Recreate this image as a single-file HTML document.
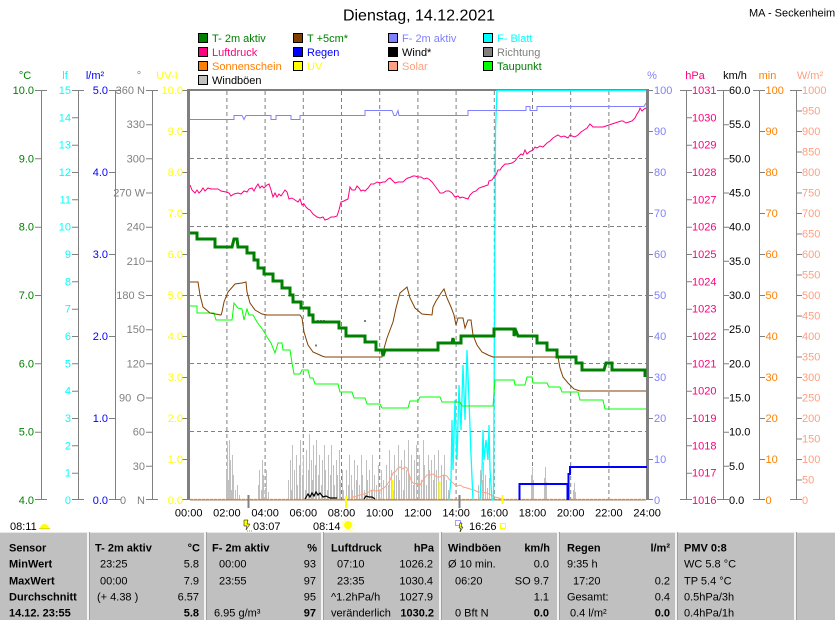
<!DOCTYPE html>
<html><head><meta charset="utf-8"><style>
html,body{margin:0;padding:0;background:#fff;}
svg{display:block;}
text{font-family:"Liberation Sans",Arial,sans-serif;font-size:11px;}
.b{font-weight:bold;}
</style></head><body>
<svg width="835" height="620" viewBox="0 0 835 620" xmlns="http://www.w3.org/2000/svg">
<rect width="835" height="620" fill="#fff"/>
<!-- Title -->
<text x="419" y="20.5" text-anchor="middle" style="font-size:16px">Dienstag, 14.12.2021</text>
<text x="749" y="16.5">MA - Seckenheim</text>

<!-- Legend -->
<g stroke="#000" stroke-width="1">
<rect x="198.5" y="33.5" width="9" height="9" fill="#008000"/>
<rect x="198.5" y="47.5" width="9" height="9" fill="#ff0080"/>
<rect x="198.5" y="61.5" width="9" height="9" fill="#ff8000"/>
<rect x="198.5" y="75.5" width="9" height="9" fill="#c0c0c0"/>
<rect x="293.5" y="33.5" width="9" height="9" fill="#804000"/>
<rect x="293.5" y="47.5" width="9" height="9" fill="#0000ff"/>
<rect x="293.5" y="61.5" width="9" height="9" fill="#ffff00"/>
<rect x="388.5" y="33.5" width="9" height="9" fill="#8080ff"/>
<rect x="388.5" y="47.5" width="9" height="9" fill="#000000"/>
<rect x="388.5" y="61.5" width="9" height="9" fill="#ffa080"/>
<rect x="483.5" y="33.5" width="9" height="9" fill="#00ffff"/>
<rect x="483.5" y="47.5" width="9" height="9" fill="#808080"/>
<rect x="483.5" y="61.5" width="9" height="9" fill="#00ff00"/>
</g>
<text x="212" y="42" fill="#008000">T- 2m aktiv</text>
<text x="212" y="56" fill="#ff0080">Luftdruck</text>
<text x="212" y="70" fill="#ff8000">Sonnenschein</text>
<text x="212" y="84" fill="#000">Windböen</text>
<text x="307" y="42" fill="#008000">T +5cm*</text>
<text x="307" y="56" fill="#0000ff">Regen</text>
<text x="307" y="70" fill="#ffff00">UV</text>
<text x="402" y="42" fill="#8080ff">F- 2m aktiv</text>
<text x="402" y="56" fill="#000">Wind*</text>
<text x="402" y="70" fill="#ffa080">Solar</text>
<text x="497" y="42" fill="#00ffff">F- Blatt</text>
<text x="497" y="56" fill="#808080">Richtung</text>
<text x="497" y="70" fill="#008000">Taupunkt</text>

<!-- Unit headers -->
<g text-anchor="middle">
<text x="25" y="79" fill="#008000">°C</text>
<text x="65" y="79" fill="#00ffff">lf</text>
<text x="95" y="79" fill="#0000ff">l/m²</text>
<text x="139" y="79" fill="#808080">°</text>
<text x="167" y="79" fill="#ffff00">UV-I</text>
<text x="652" y="79" fill="#8080ff">%</text>
<text x="695" y="79" fill="#ff0080">hPa</text>
<text x="735" y="79" fill="#000">km/h</text>
<text x="767.5" y="79" fill="#ff8000">min</text>
<text x="810" y="79" fill="#ffa080">W/m²</text>
</g>

<!-- Axis lines and ticks -->
<g stroke="#808080" stroke-width="1" fill="none">
<path d="M41.5,90V500M78.5,90V500M115.5,90V500M152.5,90V500M686.5,90V500M723.5,90V500M759.5,90V500M796.5,90V500"/>
<!-- C -->
<path d="M35,90.5H47M35,158.8H41M35,227.2H41M35,295.5H41M35,363.8H41M35,432.2H41M35,499.5H47"/>
<!-- lf -->
<path d="M72,90.5H84M72,117.8H78M72,145.2H78M72,172.5H78M72,199.8H78M72,227.2H78M72,254.5H78M72,281.8H78M72,309.2H78M72,336.5H78M72,363.8H78M72,391.2H78M72,418.5H78M72,445.8H78M72,473.2H78M72,499.5H84"/>
<!-- l/m2 -->
<path d="M109,90.5H121M109,172.5H115M109,254.5H115M109,336.5H115M109,418.5H115M109,499.5H121"/>
<!-- dir -->
<path d="M146,90.5H158M146,124.7H152M146,158.8H152M146,193H152M146,227.2H152M146,261.3H152M146,295.5H152M146,329.7H152M146,363.8H152M146,398H152M146,432.2H152M146,466.3H152M146,499.5H158"/>
<!-- UV -->
<path d="M182,131.5H188M182,172.5H188M182,213.5H188M182,254.5H188M182,295.5H188M182,336.5H188M182,377.5H188M182,418.5H188M182,459.5H188M182,499.5H188M182,90.5H188"/>
<!-- % -->
<path d="M647,90.5H653M647,131.5H653M647,172.5H653M647,213.5H653M647,254.5H653M647,295.5H653M647,336.5H653M647,377.5H653M647,418.5H653M647,459.5H653M647,499.5H653"/>
<!-- hPa -->
<path d="M680,90.5H692M686,117.8H692M686,145.2H692M686,172.5H692M686,199.8H692M686,227.2H692M686,254.5H692M686,281.8H692M686,309.2H692M686,336.5H692M686,363.8H692M686,391.2H692M686,418.5H692M686,445.8H692M686,473.2H692M680,499.5H692"/>
<!-- km/h -->
<path d="M717,90.5H729M723,124.7H729M723,158.8H729M723,193H729M723,227.2H729M723,261.3H729M723,295.5H729M723,329.7H729M723,363.8H729M723,398H729M723,432.2H729M723,466.3H729M717,499.5H729"/>
<!-- min -->
<path d="M753,90.5H765M759,131.5H765M759,172.5H765M759,213.5H765M759,254.5H765M759,295.5H765M759,336.5H765M759,377.5H765M759,418.5H765M759,459.5H765M753,499.5H765"/>
<!-- W/m2 -->
<path d="M790,90.5H802M796,111H802M796,131.5H802M796,152H802M796,172.5H802M796,193H802M796,213.5H802M796,234H802M796,254.5H802M796,275H802M796,295.5H802M796,316H802M796,336.5H802M796,357H802M796,377.5H802M796,398H802M796,418.5H802M796,439H802M796,459.5H802M796,480H802M790,499.5H802"/>
</g>

<!-- Axis labels left -->
<g text-anchor="end" fill="#008000">
<text x="34" y="94">10.0</text><text x="34" y="162.3">9.0</text><text x="34" y="230.7">8.0</text><text x="34" y="299">7.0</text><text x="34" y="367.3">6.0</text><text x="34" y="435.7">5.0</text><text x="34" y="504">4.0</text>
</g>
<g text-anchor="end" fill="#00ffff">
<text x="71" y="94">15</text><text x="71" y="121.3">14</text><text x="71" y="148.7">13</text><text x="71" y="176">12</text><text x="71" y="203.3">11</text><text x="71" y="230.7">10</text><text x="71" y="258">9</text><text x="71" y="285.3">8</text><text x="71" y="312.7">7</text><text x="71" y="340">6</text><text x="71" y="367.3">5</text><text x="71" y="394.7">4</text><text x="71" y="422">3</text><text x="71" y="449.3">2</text><text x="71" y="476.7">1</text><text x="71" y="504">0</text>
</g>
<g text-anchor="end" fill="#0000ff">
<text x="108" y="94">5.0</text><text x="108" y="176">4.0</text><text x="108" y="258">3.0</text><text x="108" y="340">2.0</text><text x="108" y="422">1.0</text><text x="108" y="504">0.0</text>
</g>
<g text-anchor="end" fill="#808080">
<text x="145" y="94">360 N</text><text x="145" y="128.2">330</text><text x="145" y="162.3">300</text><text x="145" y="196.5">270 W</text><text x="145" y="230.7">240</text><text x="145" y="264.8">210</text><text x="145" y="299">180 S</text><text x="145" y="333.2">150</text><text x="145" y="367.3">120</text><text x="145" y="401.5">O</text><text x="145" y="435.7">60</text><text x="145" y="469.8">30</text><text x="145" y="504">N</text>
</g>
<g fill="#808080"><text x="119" y="401.5">90</text><text x="120" y="504">0</text></g>
<g text-anchor="end" fill="#ffff00">
<text x="183" y="94">10.0</text><text x="183" y="135">9.0</text><text x="183" y="176">8.0</text><text x="183" y="217">7.0</text><text x="183" y="258">6.0</text><text x="183" y="299">5.0</text><text x="183" y="340">4.0</text><text x="183" y="381">3.0</text><text x="183" y="422">2.0</text><text x="183" y="463">1.0</text><text x="183" y="504">0.0</text>
</g>
<!-- Axis labels right -->
<g fill="#8080ff">
<text x="654" y="94">100</text><text x="654" y="135">90</text><text x="654" y="176">80</text><text x="654" y="217">70</text><text x="654" y="258">60</text><text x="654" y="299">50</text><text x="654" y="340">40</text><text x="654" y="381">30</text><text x="654" y="422">20</text><text x="654" y="463">10</text><text x="654" y="504">0</text>
</g>
<g fill="#ff0080">
<text x="692" y="94">1031</text><text x="692" y="121.3">1030</text><text x="692" y="148.7">1029</text><text x="692" y="176">1028</text><text x="692" y="203.3">1027</text><text x="692" y="230.7">1026</text><text x="692" y="258">1025</text><text x="692" y="285.3">1024</text><text x="692" y="312.7">1023</text><text x="692" y="340">1022</text><text x="692" y="367.3">1021</text><text x="692" y="394.7">1020</text><text x="692" y="422">1019</text><text x="692" y="449.3">1018</text><text x="692" y="476.7">1017</text><text x="692" y="504">1016</text>
</g>
<g fill="#000">
<text x="729" y="94">60.0</text><text x="729" y="128.2">55.0</text><text x="729" y="162.3">50.0</text><text x="729" y="196.5">45.0</text><text x="729" y="230.7">40.0</text><text x="729" y="264.8">35.0</text><text x="729" y="299">30.0</text><text x="729" y="333.2">25.0</text><text x="729" y="367.3">20.0</text><text x="729" y="401.5">15.0</text><text x="729" y="435.7">10.0</text><text x="729" y="469.8">5.0</text><text x="729" y="504">0.0</text>
</g>
<g fill="#ff8000">
<text x="765.5" y="94">100</text><text x="765.5" y="135">90</text><text x="765.5" y="176">80</text><text x="765.5" y="217">70</text><text x="765.5" y="258">60</text><text x="765.5" y="299">50</text><text x="765.5" y="340">40</text><text x="765.5" y="381">30</text><text x="765.5" y="422">20</text><text x="765.5" y="463">10</text><text x="765.5" y="504">0</text>
</g>
<g fill="#ffa080">
<text x="802" y="94">1000</text><text x="802" y="114.5">950</text><text x="802" y="135">900</text><text x="802" y="155.5">850</text><text x="802" y="176">800</text><text x="802" y="196.5">750</text><text x="802" y="217">700</text><text x="802" y="237.5">650</text><text x="802" y="258">600</text><text x="802" y="278.5">550</text><text x="802" y="299">500</text><text x="802" y="319.5">450</text><text x="802" y="340">400</text><text x="802" y="360.5">350</text><text x="802" y="381">300</text><text x="802" y="401.5">250</text><text x="802" y="422">200</text><text x="802" y="442.5">150</text><text x="802" y="463">100</text><text x="802" y="483.5">50</text><text x="802" y="504">0</text>
</g>

<!-- Grid -->
<g stroke="#808080" stroke-width="1" stroke-dasharray="4,3" fill="none">
<path d="M226.9,91V500M265.1,91V500M303.3,91V500M341.5,91V500M379.7,91V500M417.9,91V500M456.1,91V500M494.3,91V500M532.5,91V500M570.7,91V500M608.9,91V500"/>
<path d="M190,158.5H646M190,226.5H646M190,295.5H646M190,363.5H646M190,431.5H646"/>
</g>

<!-- Windböen -->
<path stroke="#c0c0c0" stroke-width="1" fill="none" d="M226.5,500V470M227.5,500V445M228.5,500V480M229.5,500V440M230.5,500V460M231.5,500V490M232.5,500V455M233.5,500V475M235.5,500V490M237.5,500V485M239.5,500V495M258.5,500V485M259.5,500V470M261.5,500V490M262.5,500V460M263.5,500V475M265.5,500V488M266.5,500V470M268.5,500V492M288.5,500V480M290.5,500V460M291.5,500V490M292.5,500V445M294.5,500V470M296.5,500V455M297.5,500V485M299.5,500V465M300.5,500V440M302.5,500V475M303.5,500V455M305.5,500V490M306.5,500V450M308.5,500V470M309.5,500V434M311.5,500V460M312.5,500V480M313.5,500V445M315.5,500V465M316.5,500V440M318.5,500V475M319.5,500V455M321.5,500V485M322.5,500V460M324.5,500V445M325.5,500V470M327.5,500V490M328.5,500V455M330.5,500V475M331.5,500V445M333.5,500V465M334.5,500V485M336.5,500V460M337.5,500V475M339.5,500V450M340.5,500V480M342.5,500V470M343.5,500V490M346.5,500V470M348.5,500V485M349.5,500V455M351.5,500V475M352.5,500V490M354.5,500V460M356.5,500V480M357.5,500V465M359.5,500V485M361.5,500V455M362.5,500V475M364.5,500V490M366.5,500V460M367.5,500V480M369.5,500V470M371.5,500V490M372.5,500V455M374.5,500V475M376.5,500V485M378.5,500V465M379.5,500V490M381.5,500V470M383.5,500V480M386.5,500V465M388.5,500V485M389.5,500V450M391.5,500V470M393.5,500V490M394.5,500V455M396.5,500V475M398.5,500V445M399.5,500V480M401.5,500V460M403.5,500V490M404.5,500V450M406.5,500V470M408.5,500V440M409.5,500V475M411.5,500V455M413.5,500V485M414.5,500V460M416.5,500V445M418.5,500V475M419.5,500V455M421.5,500V480M423.5,500V440M424.5,500V465M426.5,500V485M428.5,500V455M429.5,500V470M431.5,500V460M433.5,500V480M434.5,500V455M436.5,500V470M438.5,500V450M439.5,500V485M441.5,500V465M443.5,500V475M444.5,500V455M446.5,500V480M448.5,500V490M478.5,500V485M480.5,500V470M482.5,500V480M483.5,500V462M485.5,500V475M487.5,500V488M489.5,500V478M531.5,500V475M532.5,500V467M533.5,500V480M544.5,500V478M545.5,500V467M546.5,500V482M573.5,500V490M574.5,500V483M575.5,500V492"/>

<!-- Plot borders -->
<rect x="187" y="89" width="462" height="2" fill="#808080"/>
<rect x="187" y="89" width="3" height="411" fill="#808080"/>
<rect x="646" y="89" width="3" height="411" fill="#808080"/>

<!-- Solar -->
<path stroke="#ffa080" stroke-width="1" fill="none" d="M352,499 L353,497 L357,496 L360,495 L364,494 L367,493 L370,491 L372,490 L376,491 L380,490 L384,488 L387,485 L390,480 L393,473 L396,471 L398,468 L400,467 L403,469 L405,467 L407,468 L409,474 L411,480 L413,483 L417,484 L420,485 L423,480 L427,475 L430,475 L433,474 L437,477 L440,477 L443,475 L447,476 L449,479 L452,482 L455,485 L457,486 L460,485 L463,487 L467,488 L470,489 L474,490 L478,492 L482,492 L487,493 L491,495 L495,497 L499,498 L502,499.5"/>

<!-- Sunshine baseline -->
<path stroke="#808080" stroke-width="1" d="M190,500H646"/>
<path stroke="#ff8000" stroke-width="1.2" stroke-dasharray="3,1" d="M190,499.5H646"/>

<!-- Wind -->
<path stroke="#000" stroke-width="1.2" fill="none" d="M305,499 L308,494 L310,497 L312,493 L314,496 L316,492 L318,495 L320,493 L323,497 L326,496 L330,498 L337,498 M364,499 L366,496 L369,497 L372,497 L375,499"/>

<!-- UV -->
<path stroke="#ffff00" stroke-width="2" fill="none" d="M392.5,499V480M439.5,499V481M346,496V508M502.5,495V504"/>
<!-- moon markers -->
<path stroke="#808080" stroke-width="2" d="M248.5,495V508M459.5,495V508"/>

<!-- Rain -->
<path stroke="#0000ff" stroke-width="2" fill="none" d="M519.5,500V484H567.5V500M568.5,500V474H570V467H647"/>

<!-- F-Blatt -->
<path stroke="#00ffff" stroke-width="1.3" fill="none" d="M449,500 L451,480 L452,420 L453,470 L455,400 L457,460 L459,385 L461,430 L463,365 L465,420 L467,350 L469,400 L471,455 L473,500 M480,500 L482,470 L483,430 L484,460 L486,440 L488,460 L489,425 L490,470 L492,500 L493.5,500 L494.5,315 L495.5,130 L497,90.5 L646,90.5"/>

<!-- Richtung dots -->
<g fill="#808080"><rect x="315" y="344.5" width="2" height="2"/><rect x="317" y="320" width="2" height="2"/><rect x="320" y="320" width="2" height="2"/><rect x="323" y="320" width="2" height="2"/><rect x="364" y="320" width="2" height="2"/></g>

<!-- F- 2m aktiv -->
<path stroke="#8080ff" stroke-width="1" fill="none" d="M190,119.5 H234 V115.5 H242 L244,119.5 L246,115.5 H271 V119.5 H276 V115.5 H291 V119.5 H300 V115.5 H365 V110.5 H392 L394,115.5 H396 L398,110.5 L399,115.5 H468 V110.5 H526 V106.5 H530 V110.5 H537 V106.5 H644 L646,103"/>

<!-- Luftdruck -->
<path stroke="#ff0080" stroke-width="1" fill="none" d="M190,185 L192,190 L195,193 L197,190 L199,193 L201,191 L203,188 L205,191 L208,188 L211,189 L215,189 L218,189 L221,191 L226,192 L229,193 L231,196 L234,194 L238,193 L241,194 L244,191 L247,192 L249,189 L252,188 L254,191 L256,187 L258,184 L260,188 L262,186 L264,188 L267,185 L269,184 L271,190 L273,197 L275,193 L277,197 L279,194 L281,196 L283,193 L285,190 L287,192 L289,199 L292,198 L295,200 L298,202 L300,199 L302,205 L304,204 L306,207 L308,209 L310,210 L313,214 L317,217 L320,218 L323,217 L325,220 L328,219 L331,217 L334,217 L337,216 L339,210 L341,202 L344,201 L348,199 L350,187 L352,190 L355,190 L357,186 L359,188 L361,191 L363,190 L365,191 L368,188 L371,184 L374,184 L377,182 L380,183 L383,182 L385,182 L388,179 L390,178 L392,180 L395,183 L398,182 L401,182 L403,182 L406,179 L408,178 L411,177 L413,176 L415,176 L418,177 L421,177 L424,179 L427,178 L430,180 L432,182 L435,186 L438,190 L440,193 L443,193 L446,191 L449,191 L452,193 L455,197 L458,196 L460,198 L462,197 L465,198 L468,199 L470,195 L473,192 L476,191 L479,188 L482,187 L485,186 L488,185 L489,181 L492,180 L494,177 L496,175 L498,170 L500,170 L502,167 L505,164 L508,164 L512,163 L515,161 L518,157 L521,154 L523,155 L525,150 L527,154 L529,152 L531,151 L533,150 L535,147 L537,148 L540,146 L543,147 L545,145 L547,143 L550,141 L553,138 L556,136 L558,135 L561,137 L564,136 L566,137 L568,138 L570,135 L572,136 L575,137 L578,135 L581,132 L584,130 L587,128 L590,124 L593,127 L596,127 L600,127 L603,127 L606,126 L609,125 L612,124 L615,123 L618,122 L621,121 L623,121 L626,123 L629,122 L632,121 L635,118 L637,114 L639,111 L640,108 L642,111 L644,109 L646,108"/>

<!-- Taupunkt -->
<path stroke="#00ff00" stroke-width="1" fill="none" d="M190,306 H197 V313 H214 L216,320 H232 L234,303 L238,308 L242,309 L244,320 L247,309 L249,315 H253 L257,322 L263,330 L267,337 L271,343 L275,353 L278,343 H282 L283,350 H290 L292,363 L294,374 H300 L302,370 H308 L310,378 H313 L315,384 H338 L340,392 H352 L354,398 H365 L367,404 H380 L382,408 H408 L410,401 H418 L420,397 H440 L442,402 H460 L462,406 H493 L495,380 H514 L515,385 H525 L527,377 H532 L533,383 H547 L549,387 H560 L562,392 H578 L580,400 H603 L605,409 H646"/>

<!-- T +5cm -->
<path stroke="#804000" stroke-width="1" fill="none" d="M190,282 H198 L200,295 L203,307 L210,313 L221,315 L222,312 L224,302 L228,292 L235,284 L242,283 L246,282 L247,292 L250,303 L255,310 L262,314 L267,315 H300 L302,318 L304,332 L308,345 L313,352 L322,356 L325,357 H382 L383,352 L387,338 L393,322 L396,308 L400,293 L407,287 L410,298 L415,308 L422,314 L432,315 L433,307 L436,301 L438,298 L441,293 L444,289 L447,298 L451,307 L454,315 L456,325 L458,318 L463,318 L465,328 L468,320 L471,320 L473,335 L477,345 L482,352 L488,355 L493,357 H558 L560,368 L563,377 L568,383 L574,389 L580,391 H646"/>

<!-- T- 2m aktiv -->
<path stroke="#008000" stroke-width="3" fill="none" d="M190,233 H197 V239 H215 V247 H232 L234,239 H237 L238,247 H247 V253 H254 V260 H258 V268 H264 V274 H273 V281 H282 V288 H290 V295 H293 V302 H301 V308 H309 V315 H313 V322 H339 V328 H346 V336 H365 V342 H376 V350 H382 L383,356 L385,350 H438 V343 H452 L453,338 L454,343 H461 V336 H494 V329 H514 V336 L516,331 L518,336 H537 V343 H547 V350 H557 V357 H576 V363 H582 V370 H604 L606,363 H612 V370 H645 V377"/>

<!-- X axis labels -->
<g text-anchor="middle" fill="#000">
<text x="188.7" y="516.5">00:00</text><text x="226.9" y="516.5">02:00</text><text x="265.1" y="516.5">04:00</text><text x="303.3" y="516.5">06:00</text><text x="341.5" y="516.5">08:00</text><text x="379.7" y="516.5">10:00</text><text x="417.9" y="516.5">12:00</text><text x="456.1" y="516.5">14:00</text><text x="494.3" y="516.5">16:00</text><text x="532.5" y="516.5">18:00</text><text x="570.7" y="516.5">20:00</text><text x="608.9" y="516.5">22:00</text><text x="647.1" y="516.5">24:00</text>
</g>

<!-- sun/moon markers -->
<text x="10" y="530">08:11</text>
<path d="M40,528.5 A4.5,4.5 0 0 1 49,528.5 Z" fill="#ffff00"/>
<path d="M39,528.5H50" stroke="#e0e000" stroke-width="1"/>
<path d="M244,520 L248,520 L247,524 L250,524 L246,530 L247,526 L244,526 Z" fill="#ffff00" stroke="#000" stroke-width="0.5"/>
<path d="M247,531H253" stroke="#8080ff" stroke-width="1" stroke-dasharray="1,1"/>
<text x="253" y="530">03:07</text>
<text x="313" y="530">08:14</text>
<circle cx="348" cy="525" r="4" fill="#ffff00"/>
<circle cx="348" cy="525" r="6" fill="none" stroke="#ffff80" stroke-width="1" stroke-dasharray="1.5,1.5"/>
<rect x="455.5" y="520.5" width="5" height="5" fill="none" stroke="#4040ff" stroke-width="1" stroke-dasharray="1,1"/>
<path d="M460,523 L462,523 L461,527 L463,527 L460,532 L460.5,528 L459,528 Z" fill="#ffff00" stroke="#000" stroke-width="0.5"/>
<text x="469" y="530">16:26</text>
<rect x="500.5" y="523.5" width="5" height="5" fill="none" stroke="#ffff00" stroke-width="1"/>

<!-- Table -->
<rect x="0" y="532" width="835" height="88" fill="#c0c0c0"/>
<path d="M0,532.5H835" stroke="#e8e8e8" stroke-width="1"/>
<g stroke="#f4f4f4" stroke-width="2">
<path d="M88,532V620M205,532V620M322,532V620M440,532V620M558,532V620M676,532V620M795,532V620"/>
</g>
<g stroke="#a0a0a0" stroke-width="1">
<path d="M89.5,532V620M206.5,532V620M323.5,532V620M441.5,532V620M559.5,532V620M677.5,532V620M796.5,532V620"/>
</g>

<g fill="#000">
<text class="b" x="9" y="551.7">Sensor</text>
<text class="b" x="9" y="567.7">MinWert</text>
<text class="b" x="9" y="584.3">MaxWert</text>
<text class="b" x="9" y="600.5">Durchschnitt</text>
<text class="b" x="9" y="616.5">14.12. 23:55</text>

<text class="b" x="95" y="551.7">T- 2m aktiv</text>
<text class="b" x="200" y="551.7" text-anchor="end">°C</text>
<text x="100" y="567.7">23:25</text><text x="199" y="567.7" text-anchor="end">5.8</text>
<text x="100" y="584.3">00:00</text><text x="199" y="584.3" text-anchor="end">7.9</text>
<text x="97" y="600.5">(+ 4.38 )</text><text x="199" y="600.5" text-anchor="end">6.57</text>
<text class="b" x="199" y="616.5" text-anchor="end">5.8</text>

<text class="b" x="212" y="551.7">F- 2m aktiv</text>
<text class="b" x="317" y="551.7" text-anchor="end">%</text>
<text x="219" y="567.7">00:00</text><text x="316" y="567.7" text-anchor="end">93</text>
<text x="219" y="584.3">23:55</text><text x="316" y="584.3" text-anchor="end">97</text>
<text x="316" y="600.5" text-anchor="end">95</text>
<text x="214" y="616.5">6.95 g/m³</text><text class="b" x="316" y="616.5" text-anchor="end">97</text>

<text class="b" x="331" y="551.7">Luftdruck</text>
<text class="b" x="434" y="551.7" text-anchor="end">hPa</text>
<text x="337" y="567.7">07:10</text><text x="433" y="567.7" text-anchor="end">1026.2</text>
<text x="337" y="584.3">23:35</text><text x="433" y="584.3" text-anchor="end">1030.4</text>
<text x="331" y="600.5">^1.2hPa/h</text><text x="433" y="600.5" text-anchor="end">1027.9</text>
<text x="331" y="616.5">veränderlich</text><text class="b" x="434" y="616.5" text-anchor="end">1030.2</text>

<text class="b" x="448" y="551.7">Windböen</text>
<text class="b" x="550" y="551.7" text-anchor="end">km/h</text>
<text x="448" y="567.7">Ø 10 min.</text><text x="549" y="567.7" text-anchor="end">0.0</text>
<text x="455" y="584.3">06:20</text><text x="549" y="584.3" text-anchor="end">SO 9.7</text>
<text x="549" y="600.5" text-anchor="end">1.1</text>
<text x="455" y="616.5">0 Bft N</text><text class="b" x="549" y="616.5" text-anchor="end">0.0</text>

<text class="b" x="567" y="551.7">Regen</text>
<text class="b" x="670" y="551.7" text-anchor="end">l/m²</text>
<text x="567" y="567.7">9:35 h</text>
<text x="573" y="584.3">17:20</text><text x="670" y="584.3" text-anchor="end">0.2</text>
<text x="567" y="600.5">Gesamt:</text><text x="670" y="600.5" text-anchor="end">0.4</text>
<text x="570" y="616.5">0.4 l/m²</text><text class="b" x="670" y="616.5" text-anchor="end">0.0</text>

<text class="b" x="684" y="551.7">PMV 0:8</text>
<text x="684" y="567.7">WC 5.8 °C</text>
<text x="684" y="584.3">TP 5.4 °C</text>
<text x="684" y="600.5">0.5hPa/3h</text>
<text x="684" y="616.5">0.4hPa/1h</text>
</g>
</svg>
</body></html>
